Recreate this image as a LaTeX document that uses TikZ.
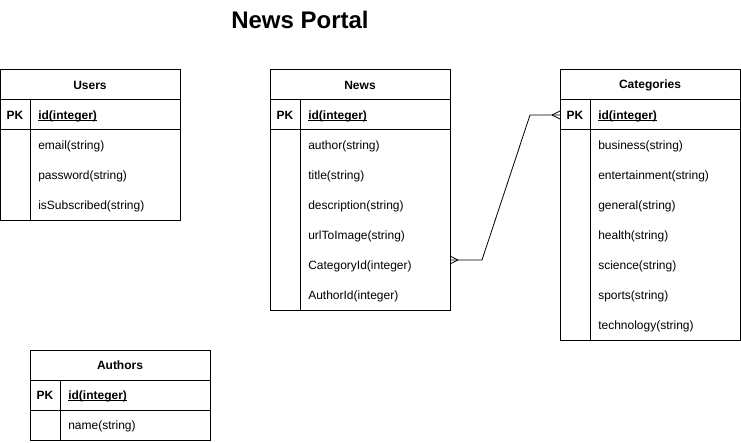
\documentclass[tikz,border=0pt]{standalone}
\usepackage{fontspec}
\setmainfont{Liberation Sans}
\usepackage{tikz}

% underline close to the baseline, as in the key rows
\newcommand{\keyline}[1]{\setbox0\hbox{#1}\rlap{\rule[-1.4pt]{\wd0}{0.6pt}}\box0}

\begin{document}
\begin{tikzpicture}[x=0.75pt,y=-0.75pt,
        box/.style={draw, line width=0.75pt},
        heading/.style={inner sep=0pt, font=\bfseries\fontsize{9}{11}\selectfont},
        pkey/.style={inner sep=0pt, font=\bfseries\fontsize{9}{11}\selectfont},
        idfield/.style={inner sep=0pt, anchor=west, text height=7.5pt, text depth=1.5pt, font=\bfseries\fontsize{9}{11}\selectfont},
        field/.style={inner sep=0pt, anchor=west, text height=7.5pt, text depth=1.5pt, font=\fontsize{9}{11}\selectfont},
        rel/.style={line width=0.6pt}]
    \useasboundingbox (0,0) rectangle (741,442);

    % Title
    \node[inner sep=0pt, font=\bfseries\fontsize{18}{21}\selectfont] (title) at (300,20) {News Portal};

    % Users table
    \draw[box] (0,70) rectangle (180,220);
    \draw[box] (0,100) -- (180,100);
    \draw[box] (0,130) -- (180,130);
    \draw[box] (30,100) -- (30,220);
    \node[heading] (users) at (90,85) {Users};
    \node[pkey] (users-pk) at (15,115) {PK};
    \node[idfield] (users-id) at (38,115) {\keyline{id(integer)}};
    \foreach \f [count=\i] in {email(string),password(string),isSubscribed(string)}
        \node[field] (users-\i) at (38,115+30*\i) {\f};

    % News table
    \draw[box] (270,70) rectangle (450,310);
    \draw[box] (270,100) -- (450,100);
    \draw[box] (270,130) -- (450,130);
    \draw[box] (300,100) -- (300,310);
    \node[heading] (news) at (360,85) {News};
    \node[pkey] (news-pk) at (285,115) {PK};
    \node[idfield] (news-id) at (308,115) {\keyline{id(integer)}};
    \foreach \f [count=\i] in {author(string),title(string),description(string),urlToImage(string),CategoryId(integer),AuthorId(integer)}
        \node[field] (news-\i) at (308,115+30*\i) {\f};

    % Categories table
    \draw[box] (560,70) rectangle (740,340);
    \draw[box] (560,100) -- (740,100);
    \draw[box] (560,130) -- (740,130);
    \draw[box] (590,100) -- (590,340);
    \node[heading] (categories) at (650,85) {Categories};
    \node[pkey] (categories-pk) at (575,115) {PK};
    \node[idfield] (categories-id) at (598,115) {\keyline{id(integer)}};
    \foreach \f [count=\i] in {business(string),entertainment(string),general(string),health(string),science(string),sports(string),technology(string)}
        \node[field] (categories-\i) at (598,115+30*\i) {\f};

    % Authors table
    \draw[box] (30,350) rectangle (210,440);
    \draw[box] (30,380) -- (210,380);
    \draw[box] (30,410) -- (210,410);
    \draw[box] (60,380) -- (60,440);
    \node[heading] (authors) at (120,365) {Authors};
    \node[pkey] (authors-pk) at (45,395) {PK};
    \node[idfield] (authors-id) at (68,395) {\keyline{id(integer)}};
    \node[field] (authors-1) at (68,425) {name(string)};

    % Relation News.CategoryId -- Categories.id
    \coordinate (news-fk) at (450,260);
    \coordinate (cat-key) at (560,115);
    \draw[rel] (news-fk) -- (482,260) -- (530,115) -- (cat-key);
    % crow's feet
    \draw[rel] ([xshift=6pt]news-fk) -- ++(-8,-4);
    \draw[rel] ([xshift=6pt]news-fk) -- ++(-8,4);
    \draw[rel] ([xshift=-6pt]cat-key) -- ++(8,-4);
    \draw[rel] ([xshift=-6pt]cat-key) -- ++(8,4);
\end{tikzpicture}
\end{document}
